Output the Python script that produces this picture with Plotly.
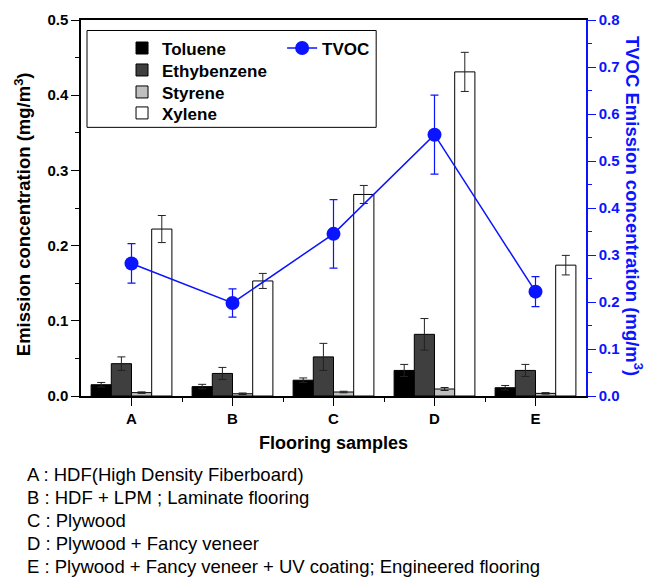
import plotly.graph_objects as go

samples = ["A", "B", "C", "D", "E"]
toluene = [0.015, 0.0125, 0.021, 0.034, 0.011]
toluene_err = [0.003, 0.003, 0.003, 0.008, 0.003]
ethylbenzene = [0.043, 0.030, 0.052, 0.082, 0.034]
ethylbenzene_err = [0.009, 0.008, 0.018, 0.021, 0.008]
styrene = [0.0045, 0.003, 0.0053, 0.0093, 0.0035]
styrene_err = [0.001, 0.001, 0.001, 0.002, 0.001]
xylene = [0.222, 0.153, 0.268, 0.431, 0.174]
xylene_err = [0.018, 0.010, 0.012, 0.026, 0.013]
tvoc = [0.282, 0.198, 0.345, 0.556, 0.222]
tvoc_err = [0.042, 0.030, 0.073, 0.084, 0.032]

notes = [
    "A : HDF(High Density Fiberboard)",
    "B : HDF + LPM ; Laminate flooring",
    "C : Plywood",
    "D : Plywood + Fancy veneer",
    "E : Plywood + Fancy veneer + UV coating; Engineered flooring",
]

xs = list(range(1, len(samples) + 1))
FONT = "Liberation Sans, Arial, sans-serif"
BLUE = "#0a14ff"

# plot-area geometry (pixels) used to place legends / notes
PL, PW, PB, PH = 81, 504.7, 396, 376.5


def py(p):
    return (PB - p) / PH


def px(p):
    return (p - PL) / PW


fig = go.Figure()
bar_specs = [
    ("Toluene", toluene, toluene_err, "#000000"),
    ("Ethybenzene", ethylbenzene, ethylbenzene_err, "#3f3f3f"),
    ("Styrene", styrene, styrene_err, "#bfbfbf"),
    ("Xylene", xylene, xylene_err, "#ffffff"),
]
legend_rows = [48, 70, 92, 113]
legend_cfg = {}
for i, (name, vals, errs, col) in enumerate(bar_specs):
    lname = "legend" if i == 0 else "legend%d" % (i + 1)
    fig.add_trace(go.Bar(
        x=xs, y=vals, name="<b>%s</b>" % name,
        marker=dict(color=col, line=dict(color="#000000", width=1)),
        error_y=dict(type="data", array=errs, color="#222222", thickness=1, width=4),
        legend=lname, showlegend=True,
    ))
    legend_cfg[lname] = dict(
        x=px(122), y=py(legend_rows[i]), xanchor="left", yanchor="middle",
        bgcolor="rgba(0,0,0,0)", borderwidth=0,
        font=dict(size=17, family=FONT, color="black"),
    )

fig.add_trace(go.Scatter(
    x=xs, y=tvoc, name="<b>TVOC</b>", yaxis="y2", mode="lines+markers",
    line=dict(color=BLUE, width=1.5),
    marker=dict(color=BLUE, size=14),
    error_y=dict(type="data", array=tvoc_err, color=BLUE, thickness=1.2, width=4),
    legend="legend5", showlegend=True,
))
legend_cfg["legend5"] = dict(
    x=px(282), y=py(48), xanchor="left", yanchor="middle",
    bgcolor="rgba(0,0,0,0)", borderwidth=0,
    font=dict(size=17, family=FONT, color="black"),
)

fig.update_layout(
    width=649, height=579,
    margin=dict(l=81, r=63, t=20, b=183),
    paper_bgcolor="white", plot_bgcolor="white",
    showlegend=True,
    barmode="group", bargap=0.2, bargroupgap=0,
    font=dict(family=FONT, size=14, color="black"),
    xaxis=dict(
        range=[0.5, 5.5], tickvals=xs, ticktext=["<b>%s</b>" % s for s in samples],
        ticks="outside", ticklen=8, tickwidth=1, tickcolor="black",
        showline=True, linecolor="black", linewidth=1.5, mirror=True,
        showgrid=False, zeroline=False,
        minor=dict(tickvals=[1.5, 2.5, 3.5, 4.5], ticks="outside", ticklen=4, tickcolor="black"),
        tickfont=dict(size=15, family=FONT),
        title=dict(text="<b>Flooring samples</b>", font=dict(size=18, family=FONT), standoff=11),
    ),
    yaxis=dict(
        range=[0, 0.5], dtick=0.1, tickformat=".1f",
        ticks="outside", ticklen=8, tickwidth=1, tickcolor="black",
        showline=True, linecolor="black", linewidth=1.5,
        showgrid=False, zeroline=False,
        minor=dict(dtick=0.05, ticks="outside", ticklen=4, tickcolor="black"),
        tickfont=dict(size=15, family=FONT),
        tickprefix="<b>", ticksuffix="</b>",
    ),
    yaxis2=dict(
        overlaying="y", side="right", anchor="x",
        range=[0, 0.8], dtick=0.1, tickformat=".1f",
        ticks="outside", ticklen=8, tickwidth=1, tickcolor=BLUE,
        showline=True, linecolor=BLUE, linewidth=1.5,
        showgrid=False, zeroline=False,
        minor=dict(dtick=0.05, ticks="outside", ticklen=4, tickcolor=BLUE),
        tickfont=dict(size=15, family=FONT, color=BLUE),
        tickprefix="<b>", ticksuffix="</b>",
    ),
    shapes=[dict(type="rect", xref="paper", yref="paper",
                 x0=px(87), x1=px(376), y0=py(127), y1=py(30),
                 line=dict(color="black", width=1))],
    **legend_cfg,
)

annotations = [
    dict(
        text="<b>Emission concentration (mg/m<sup>3</sup>)</b>",
        xref="paper", yref="paper", x=px(23), y=py(214), textangle=-90,
        showarrow=False, font=dict(size=18.5, family=FONT, color="black"),
        xanchor="center", yanchor="middle",
    ),
    dict(
        text="<b>TVOC Emission concentration (mg/m<sup>3</sup>)</b>",
        xref="paper", yref="paper", x=px(633), y=py(206), textangle=90,
        showarrow=False, font=dict(size=18.5, family=FONT, color=BLUE),
        xanchor="center", yanchor="middle",
    ),
]
line_y = [475, 498, 521, 544, 567]
for txt, ly in zip(notes, line_y):
    annotations.append(dict(
        text=txt, xref="paper", yref="paper",
        x=px(25), y=py(ly),
        xanchor="left", yanchor="middle", showarrow=False,
        font=dict(size=18.5, family=FONT, color="black"),
    ))
fig.update_layout(annotations=annotations)

fig.write_html("out.html", config={"displayModeBar": False},
               post_script="document.body.style.margin='0';")
